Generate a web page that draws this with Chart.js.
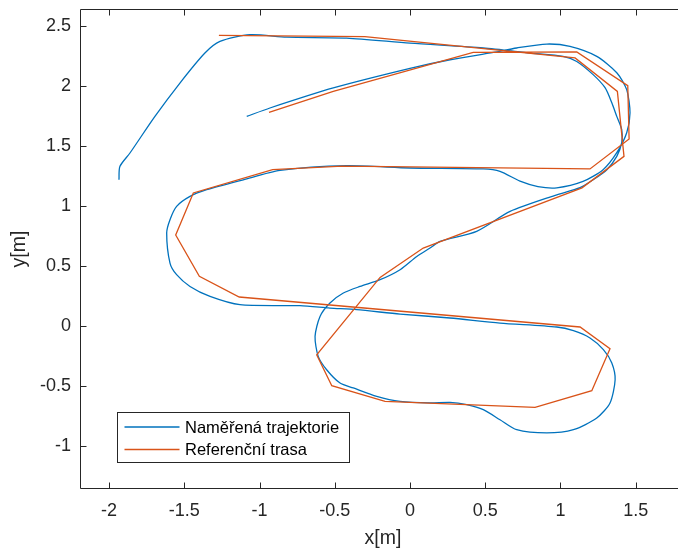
<!DOCTYPE html>
<html>
<head>
<meta charset="utf-8">
<script src="https://cdn.jsdelivr.net/npm/chart.js@4/dist/chart.umd.min.js"></script>
<style>
  html, body { margin: 0; padding: 0; overflow: hidden; background: #fff; }
  #wrap { width: 690px; height: 552px; }
</style>
</head>
<body>
<div id="wrap"><canvas id="c"></canvas></div>
<script>
// measured trajectory (blue)
const measX = [-1.934, -1.928, -1.861, -1.695, -1.529, -1.363, -1.263, -1.063, -0.82, -0.421, 0, 0.487,
  0.798, 1.017, 1.108, 1.217, 1.296, 1.341, 1.374, 1.407, 1.407, 1.374, 1.308, 1.217, 1.13, 0.96,
  0.665, 0.443, 0.2, 0.133, 0.045, -0.066, -0.199, -0.332, -0.443, -0.532, -0.598, -0.631, -0.61,
  -0.554, -0.465, -0.377, -0.221, -0.066, 0.133, 0.266, 0.377, 0.487, 0.598, 0.709, 0.909, 1.086,
  1.241, 1.329, 1.363, 1.341, 1.285, 1.196, 1.086, 0.975, 0.598, 0.266, -0.066, -0.354, -0.532,
  -0.731, -1.13, -1.329, -1.462, -1.551, -1.595, -1.617, -1.595, -1.551, -1.462, -1.351, -1.108,
  -0.864, -0.421, 0, 0.487, 0.598, 0.731, 0.85, 0.975, 1.15, 1.283, 1.374, 1.44, 1.462, 1.44,
  1.374, 1.241, 1.063, 0.909, 0.709, 0.554, 0.266, 0, -0.51, -0.931, -1.085];
const measY = [1.222, 1.333, 1.445, 1.75, 2.028, 2.278, 2.375, 2.431, 2.41, 2.403, 2.36, 2.32,
  2.278, 2.25, 2.208, 2.098, 1.989, 1.864, 1.75, 1.639, 1.531, 1.417, 1.306, 1.222, 1.156, 1.09,
  0.958, 0.792, 0.708, 0.653, 0.583, 0.4725, 0.389, 0.333, 0.278, 0.195, 0.083, -0.083, -0.25,
  -0.361, -0.472, -0.513, -0.583, -0.625, -0.638, -0.633, -0.6525, -0.694, -0.778, -0.861, -0.888, -0.861,
  -0.763, -0.638, -0.444, -0.305, -0.194, -0.097, -0.036, -0.005, 0.028, 0.07, 0.103, 0.139, 0.153,
  0.1725, 0.181, 0.25, 0.333, 0.431, 0.528, 0.778, 0.889, 1.0, 1.083, 1.139, 1.222,
  1.3, 1.339, 1.32, 1.312, 1.292, 1.21, 1.165, 1.155, 1.208, 1.306, 1.4475, 1.614, 1.781, 1.973,
  2.114, 2.25, 2.333, 2.353, 2.32, 2.283, 2.222, 2.15, 1.987, 1.82, 1.75];

// reference path (orange)
const refX = [-1.27, -0.30, 1.097, 1.378, 1.422, 1.143, 0.088, -0.199, -0.62, -0.52, -0.166, 0.831,
  1.208, 1.329, 1.13, -1.135, -1.40, -1.557, -1.44, -0.913, -0.45, 1.196, 1.456, 1.447, 1.108,
  0.42, -0.51, -0.937];
const refY = [2.425, 2.415, 2.237, 1.958, 1.417, 1.155, 0.653, 0.408, -0.236, -0.494, -0.625, -0.675,
  -0.536, -0.186, -0.005, 0.245, 0.417, 0.762, 1.112, 1.306, 1.335, 1.312, 1.562, 2.006, 2.287,
  2.283, 1.958, 1.783];

const xTicks = [-2, -1.5, -1, -0.5, 0, 0.5, 1, 1.5];
const yTicks = [-1, -0.5, 0, 0.5, 1, 1.5, 2, 2.5];

const seriesNames = ["Naměřená trajektorie", "Referenční trasa"];
const xTitle = "x[m]";
const yTitle = "y[m]";

const BLUE = "#0072BD", ORANGE = "#D95319", AX = "#262626";
const FONT = "'Liberation Sans', Arial, Helvetica, sans-serif";

const toPts = (xs, ys) => xs.map((x, i) => ({ x, y: ys[i] }));

/* box + inward ticks, MATLAB style */
const axesBox = {
  id: "axesBox",
  afterDatasetsDraw(chart) {
    const { ctx, chartArea: a, scales: { x, y } } = chart;
    const L = Math.round(a.left) + 0.5, R = Math.round(a.right) - 0.5;
    const T = Math.round(a.top) + 0.5, B = Math.round(a.bottom) - 0.5;
    ctx.save();
    ctx.strokeStyle = AX;
    ctx.lineWidth = 1;
    ctx.beginPath();
    ctx.moveTo(L, T); ctx.lineTo(L, B); ctx.lineTo(R, B); ctx.lineTo(R, T); ctx.closePath();
    x.ticks.forEach(t => {
      const p = Math.round(x.getPixelForValue(t.value)) + 0.5;
      ctx.moveTo(p, B); ctx.lineTo(p, B - 6);
      ctx.moveTo(p, T); ctx.lineTo(p, T + 6);
    });
    y.ticks.forEach(t => {
      const p = Math.round(y.getPixelForValue(t.value)) + 0.5;
      ctx.moveTo(L, p); ctx.lineTo(L + 6, p);
      ctx.moveTo(R, p); ctx.lineTo(R - 6, p);
    });
    ctx.stroke();
    ctx.restore();
  }
};

/* legend box in lower-left corner */
const legendBox = {
  id: "legendBox",
  afterDraw(chart) {
    const { ctx, chartArea: a } = chart;
    const bx = Math.round(a.left) + 37.5, by = Math.round(a.bottom) - 76.5;
    const bw = 232, bh = 50;
    ctx.save();
    ctx.fillStyle = "#fff";
    ctx.fillRect(bx, by, bw, bh);
    ctx.strokeStyle = AX;
    ctx.lineWidth = 1;
    ctx.strokeRect(bx, by, bw, bh);
    const rows = [[seriesNames[0], BLUE, 14.5], [seriesNames[1], ORANGE, 37]];
    ctx.font = "16.5px " + FONT;
    ctx.textBaseline = "middle";
    rows.forEach(([txt, col, dy]) => {
      ctx.strokeStyle = col;
      ctx.lineWidth = 1.3;
      ctx.beginPath();
      ctx.moveTo(bx + 7, by + dy); ctx.lineTo(bx + 62, by + dy);
      ctx.stroke();
      ctx.fillStyle = "#000";
      ctx.fillText(txt, bx + 67.5, by + dy + 1);
    });
    ctx.restore();
  }
};

new Chart(document.getElementById("c"), {
  type: "scatter",
  data: {
    datasets: [
      { label: seriesNames[0], data: toPts(measX, measY), showLine: true, borderColor: BLUE,
        borderWidth: 1.3, pointRadius: 0, tension: 0.25, order: 2 },
      { label: seriesNames[1], data: toPts(refX, refY), showLine: true, borderColor: ORANGE,
        borderWidth: 1.3, pointRadius: 0, tension: 0, order: 1 }
    ]
  },
  options: {
    responsive: true,
    maintainAspectRatio: false,
    animation: false,
    devicePixelRatio: 1,
    layout: { padding: { top: 9, right: 4, left: 0, bottom: 0 } },
    plugins: { legend: { display: false }, tooltip: { enabled: false } },
    scales: {
      x: {
        type: "linear", min: -2.193, max: 1.834,
        grid: { display: false, drawTicks: false }, border: { display: false },
        ticks: { padding: 11, color: AX, font: { size: 18, family: FONT }, callback: v => String(v) },
        afterBuildTicks: s => { s.ticks = xTicks.map(v => ({ value: v })); },
        title: { display: true, text: xTitle, color: AX, padding: { top: 0, bottom: 2 },
          font: { size: 19.5, family: FONT } },
        afterFit: s => { s.height = 63; s.paddingLeft = 0; s.paddingRight = 0; }
      },
      y: {
        type: "linear", min: -1.355, max: 2.645,
        grid: { display: false, drawTicks: false }, border: { display: false },
        ticks: { padding: 9, color: AX, font: { size: 18, family: FONT }, callback: v => String(v) },
        afterBuildTicks: s => { s.ticks = yTicks.map(v => ({ value: v })); },
        title: { display: true, text: yTitle, color: AX, padding: { top: 8, bottom: 0 },
          font: { size: 19.5, family: FONT } },
        afterFit: s => { s.width = 80; s.paddingTop = 0; s.paddingBottom = 0; }
      }
    }
  },
  plugins: [axesBox, legendBox]
});
</script>
</body>
</html>
